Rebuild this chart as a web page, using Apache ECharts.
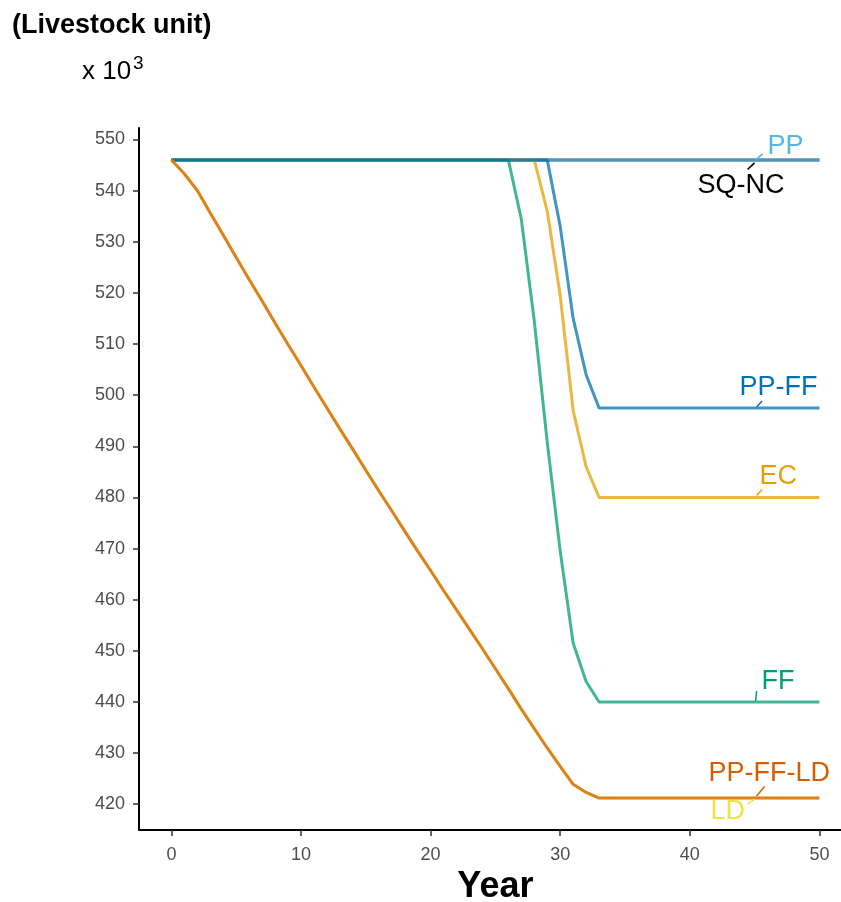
<!DOCTYPE html>
<html><head><meta charset="utf-8">
<script src="https://cdn.jsdelivr.net/npm/echarts@6/dist/echarts.min.js"></script>
<style>html,body{margin:0;padding:0;background:#fff}#c{width:841px;height:902px}</style>
</head><body><div id="c"></div>
<script>
// ---- data ----
const years = [0,1,2,3,4,5,6,7,8,9,10,11,12,13,14,15,16,17,18,19,20,21,22,23,24,25,26,27,28,29,30,31,32,33,34,35,36,37,38,39,40,41,42,43,44,45,46,47,48,49,50];
const sqnc = [546,546,546,546,546,546,546,546,546,546,546,546,546,546,546,546,546,546,546,546,546,546,546,546,546,546,546,546,546,546,546,546,546,546,546,546,546,546,546,546,546,546,546,546,546,546,546,546,546,546,546];
const pp = [546,546,546,546,546,546,546,546,546,546,546,546,546,546,546,546,546,546,546,546,546,546,546,546,546,546,546,546,546,546,546,546,546,546,546,546,546,546,546,546,546,546,546,546,546,546,546,546,546,546,546];
const ec = [546,546,546,546,546,546,546,546,546,546,546,546,546,546,546,546,546,546,546,546,546,546,546,546,546,546,546,546,546,536,519.5,497,486,480,480,480,480,480,480,480,480,480,480,480,480,480,480,480,480,480,480];
const ff = [546,546,546,546,546,546,546,546,546,546,546,546,546,546,546,546,546,546,546,546,546,546,546,546,546,546,546,534.4,514.5,490.8,469.5,451.5,444,440,440,440,440,440,440,440,440,440,440,440,440,440,440,440,440,440,440];
const ppff = [546,546,546,546,546,546,546,546,546,546,546,546,546,546,546,546,546,546,546,546,546,546,546,546,546,546,546,546,546,546,533,515,504,497.5,497.5,497.5,497.5,497.5,497.5,497.5,497.5,497.5,497.5,497.5,497.5,497.5,497.5,497.5,497.5,497.5,497.5];
const ld = [546,543.3,540,535.6,531.3,526.9,522.6,518.4,514.1,509.9,505.8,501.6,497.5,493.4,489.4,485.3,481.3,477.4,473.4,469.5,465.7,461.8,458.0,454.2,450.4,446.5,442.6,438.6,434.8,431.0,427.4,423.9,422.3,421.2,421.2,421.2,421.2,421.2,421.2,421.2,421.2,421.2,421.2,421.2,421.2,421.2,421.2,421.2,421.2,421.2,421.2];
const ppffld = [546,543.3,540,535.6,531.3,526.9,522.6,518.4,514.1,509.9,505.8,501.6,497.5,493.4,489.4,485.3,481.3,477.4,473.4,469.5,465.7,461.8,458.0,454.2,450.4,446.5,442.6,438.6,434.8,431.0,427.4,423.9,422.3,421.2,421.2,421.2,421.2,421.2,421.2,421.2,421.2,421.2,421.2,421.2,421.2,421.2,421.2,421.2,421.2,421.2,421.2];
const seriesNames = ['SQ-NC','PP','EC','FF','PP-FF','LD','PP-FF-LD'];
const xTicks = [0,10,20,30,40,50];
const yTicks = [420,430,440,450,460,470,480,490,500,510,520,530,540,550];
const labelYear = 45;

// ---- styles ----
const seriesData = [sqnc, pp, ec, ff, ppff, ld, ppffld];
const colors = {'SQ-NC':'#000000','PP':'#56B4E9','EC':'#E69F00','FF':'#009E73','PP-FF':'#0072B2','LD':'#F0E442','PP-FF-LD':'#D55E00'};
const labelStyle = {
  'PP':       {dx:13,  dy:-13, seg:[1,0,8,-6]},
  'SQ-NC':    {dx:-57, dy:26,  seg:[0,3,-7,9.5]},
  'PP-FF':    {dx:-15, dy:-20, seg:[2,-1,7.5,-7]},
  'EC':       {dx:5,   dy:-21, seg:[2,-2,7.5,-8]},
  'FF':       {dx:7,   dy:-20, seg:[1,-1,2,-11]},
  'PP-FF-LD': {dx:-46, dy:-25, seg:[2,-2,10,-11.5]},
  'LD':       {dx:-44, dy:13,  seg:[0,1,-7,6]}
};
const FONT = '"Liberation Sans", Arial, sans-serif';

const lineSeries = seriesNames.map((n, i) => ({
  name: n, type: 'line', showSymbol: false, symbol: 'none',
  data: years.map((y, k) => [y, seriesData[i][k]]),
  lineStyle: {color: colors[n], width: 3, opacity: 0.75},
  itemStyle: {color: colors[n]},
  z: 2 + i * 0.01,
  animation: false
}));

const labelOrder = ['PP','SQ-NC','PP-FF','EC','FF','PP-FF-LD','LD'];
const labelData = labelOrder.map(n => [labelYear, seriesData[seriesNames.indexOf(n)][years.indexOf(labelYear)], n]);

const labelSeries = {
  type: 'custom', name: 'labels', clip: false, z: 10, animation: false,
  data: labelData,
  renderItem: function (params, api) {
    const d = labelData[params.dataIndex];
    const p = api.coord([d[0], d[1]]);
    const st = labelStyle[d[2]];
    const c = colors[d[2]];
    return {type: 'group', children: [
      {type: 'line', shape: {x1: p[0] + st.seg[0], y1: p[1] + st.seg[1], x2: p[0] + st.seg[2], y2: p[1] + st.seg[3]},
       style: {stroke: c, lineWidth: 1.5}},
      {type: 'text', style: {text: d[2], x: p[0] + st.dx, y: p[1] + st.dy, fill: c,
        font: '27px ' + FONT, align: 'left', verticalAlign: 'middle'}}
    ]};
  }
};

const chart = echarts.init(document.getElementById('c'), null, {renderer: 'canvas'});
chart.setOption({
  backgroundColor: '#ffffff',
  animation: false,
  grid: {left: 139, top: 128, width: 712.8, height: 702, outerBoundsMode: 'none', containLabel: false},
  xAxis: {
    type: 'value', min: -2.5, max: 52.5,
    name: 'Year', nameLocation: 'middle', nameGap: 36,
    nameTextStyle: {fontSize: 36, fontWeight: 'bold', color: '#000', fontFamily: FONT},
    axisLine: {onZero: false, lineStyle: {color: '#000', width: 2}},
    axisTick: {show: true, length: 6, lineStyle: {color: '#333', width: 1.5}, customValues: xTicks},
    axisLabel: {color: '#4D4D4D', fontSize: 18, fontFamily: FONT, margin: 16, customValues: xTicks},
    splitLine: {show: false}
  },
  yAxis: {
    type: 'value', min: 414.96, max: 552.24,
    axisLine: {show: true, onZero: false, lineStyle: {color: '#000', width: 2}},
    axisTick: {show: true, length: 6, lineStyle: {color: '#333', width: 1.5}, customValues: yTicks},
    axisLabel: {color: '#4D4D4D', fontSize: 18, fontFamily: FONT, margin: 14, customValues: yTicks},
    splitLine: {show: false}
  },
  graphic: [
    {type: 'text', left: 12, top: 12, style: {text: '(Livestock unit)', font: 'bold 27px ' + FONT, fill: '#000'}},
    {type: 'text', x: 82, y: 72, style: {text: 'x 10', font: '26px ' + FONT, fill: '#000', verticalAlign: 'middle'}},
    {type: 'text', x: 133, y: 64, style: {text: '3', font: '19px ' + FONT, fill: '#000', verticalAlign: 'middle'}}
  ],
  series: lineSeries.concat([labelSeries])
});
</script>
</body></html>
